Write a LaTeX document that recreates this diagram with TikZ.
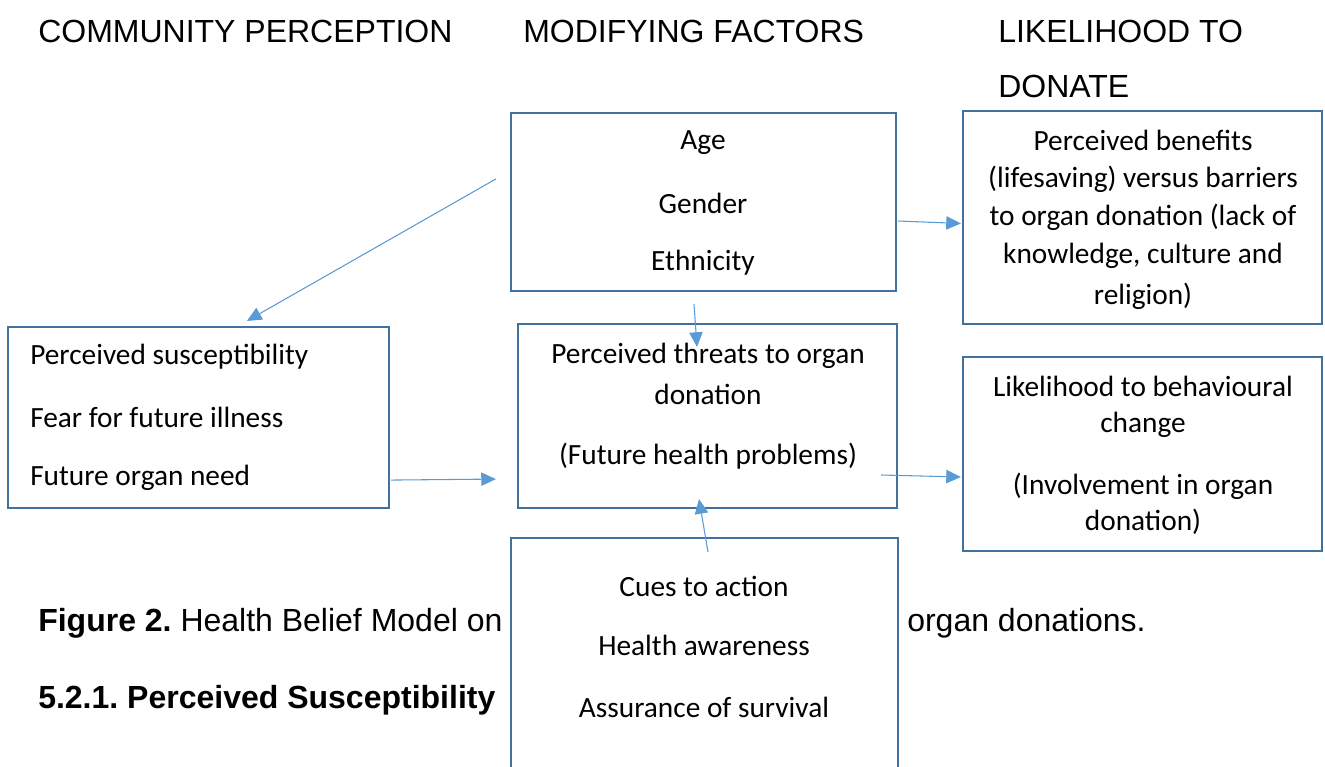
\documentclass[tikz,border=0pt]{standalone}
\usepackage{fontspec}
\setmainfont{Carlito}
\newfontfamily\arialfont{Liberation Sans}
\usetikzlibrary{arrows.meta}
\usetikzlibrary{fit}
\frenchspacing

\definecolor{boxblue}{HTML}{41719C}
\definecolor{arrowblue}{HTML}{5B9BD5}

\tikzset{
  box/.style={draw=boxblue, line width=1.6pt, fill=white, inner sep=0pt},
  arr/.style={draw=arrowblue, line width=0.8pt, -{Triangle[length=11pt,width=10pt]}},
  txt/.style={font=\fontsize{22}{26}\selectfont, inner sep=0pt},
  head/.style={font=\arialfont\fontsize{24}{28}\selectfont, anchor=west, inner sep=0pt},
}

\begin{document}
\begin{tikzpicture}[x=0.75pt,y=-0.75pt]
\useasboundingbox (0,0) rectangle (1325,767);

%column headings
\node[head] (hcomm) at (38,31) {COMMUNITY PERCEPTION};
\node[head] (hmod) at (523,31) {MODIFYING FACTORS};
\node[head] (hlike) at (998,31) {LIKELIHOOD TO};
\node[head] (hdon) at (998,86) {DONATE};

%caption
\node[head] (fig) at (38,623) {\textbf{Figure 2.} Health Belief Model on};
\node[head] (figend) at (907,623) {organ donations.};
\node[head] (sect) at (38,700) {\textbf{5.2.1. Perceived Susceptibility}};

%boxes
\node[box, fit={(511,113) (896,291)}] (factors) {};
\node[box, fit={(963,111) (1322,324)}] (benefits) {};
\node[box, fit={(8,327) (389,508)}] (percep) {};
\node[box, fit={(518,324) (897,508)}] (threats) {};
\node[box, fit={(963,357) (1322,551)}] (change) {};
\node[box, fit={(511,538) (898,800)}] (cues) {};

%top middle box
\node[txt] (age) at (703,143) {Age};
\node[txt] (gender) at (703,203) {Gender};
\node[txt] (ethnic) at (703,263) {Ethnicity};

%top right box
\node[txt] (ben1) at (1143,140) {Perceived benefits};
\node[txt] (ben2) at (1143,179) {(lifesaving) versus barriers};
\node[txt] (ben3) at (1143,217) {to organ donation (lack of};
\node[txt] (ben4) at (1143,256) {knowledge, culture and};
\node[txt] (ben5) at (1143,296) {religion)};

%left box
\node[txt, anchor=west] (sus) at (30,357) {Perceived susceptibility};
\node[txt, anchor=west] (fear) at (30,417) {Fear for future illness};
\node[txt, anchor=west] (need) at (30,478) {Future organ need};

%middle box
\node[txt] (thr1) at (708,356) {Perceived threats to organ};
\node[txt] (thr2) at (708,394) {donation};
\node[txt] (thr3) at (708,456) {(Future health problems)};

%lower right box
\node[txt] (chg1) at (1143,386) {Likelihood to behavioural};
\node[txt] (chg2) at (1143,425) {change};
\node[txt] (chg3) at (1143,486) {(Involvement in organ};
\node[txt] (chg4) at (1143,522) {donation)};

%bottom box
\node[txt] (cue1) at (704,586) {Cues to action};
\node[txt] (cue2) at (704,645) {Health awareness};
\node[txt] (cue3) at (704,707) {Assurance of survival};

%arrows
\draw[arr] ([shift={(-14,67)}]factors.north west) -- ([shift={(240,-5)}]percep.north west);
\draw[arr] ([shift={(-9.5,12)}]factors.south) -- ([shift={(-10.5,24)}]threats.north);
\draw[arr] ([shift={(1,-29)}]percep.south east) -- ([shift={(-21,-30)}]threats.south west);
\draw[arr] ([shift={(3.5,15)}]cues.north) -- ([shift={(-8.5,-10)}]threats.south);
\draw[arr] ([shift={(1,19)}]factors.east) -- ([shift={(-1,6)}]benefits.west);
\draw[arr] ([shift={(-17,59)}]threats.east) -- ([shift={(-1,23)}]change.west);
\end{tikzpicture}
\end{document}
